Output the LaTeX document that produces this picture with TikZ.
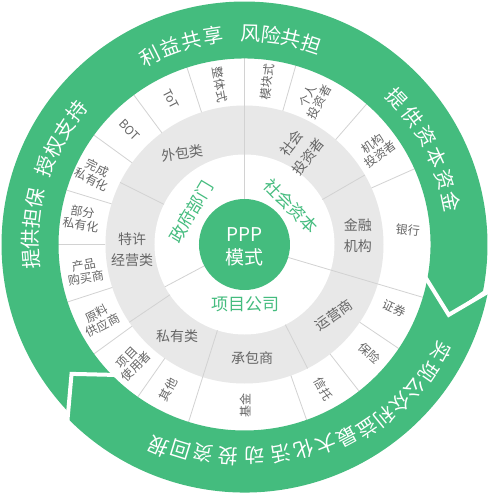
\documentclass[tikz,border=0pt]{standalone}
\usepackage{fontspec}
\setmainfont{Noto Sans CJK SC}
\usepackage{tikz}
\usetikzlibrary{positioning,calc}
\definecolor{pppgreen}{HTML}{44BC7E}
\definecolor{ringgray}{HTML}{E8E8E8}
\definecolor{lblgray}{HTML}{666666}
\definecolor{divline}{HTML}{D2D2D2}
\tikzset{
  arctext/.style={text=white,font=\fontsize{20}{20}\selectfont,inner sep=0pt},
  outerlbl/.style={text=lblgray,font=\fontsize{12}{13}\selectfont,
                   align=center,inner sep=0pt},
  midlbl/.style={text=lblgray,font=\fontsize{14}{21}\selectfont,
                 align=center,inner sep=0pt},
  corelbl/.style={text=pppgreen,font=\fontsize{17}{17}\selectfont,inner sep=0pt},
  hublbl/.style={text=white,font=\fontsize{19}{23}\selectfont,
                 align=center,inner sep=0pt},
  divider/.style={draw=divline,line width=0.8pt},
  gapline/.style={draw=white,line width=4pt,line join=miter}
}

\begin{document}
\begin{tikzpicture}[x=1pt,y=1pt]
    \path[use as bounding box] (-244.5,-248.5) rectangle (245.5,244.5);

    \fill[white] (0,0) circle[radius=186pt];
    \fill[ringgray] (0,0) circle[radius=139pt];
    \fill[white] (0,0) circle[radius=90pt];

    \draw[divider] (90:45pt) -- (90:186pt);
    \draw[divider] (-16.5:45pt) -- (-16.5:186pt);
    \draw[divider] (208:45pt) -- (208:90pt);
    \draw[divider] (214:90pt) -- (214:139pt);
    \draw[divider] (216:139pt) -- (216:186pt);
    \draw[divider] (252.5:90pt) -- (252.5:186pt);
    \foreach \a in {30,-63,153.5}
      \draw[divider] (\a:90pt) -- (\a:139pt);
    \foreach \a in {74,49,24,-34,-52,-70.5,235,198,180,163,144,126.5,108}
      \draw[divider] (\a:139pt) -- (\a:186pt);

    \node[circle,fill=pppgreen,minimum size=91pt,inner sep=0pt] (hub) at (0,0) {};
    \node[hublbl] (hubtext) at (0,-2) {PPP\\模式};

    \fill[pppgreen] (224.5:186pt) -- (216.8:216pt) -- (224.5:243pt)
      arc[start angle=224.5,end angle=-11,radius=243pt]
      -- (-19:216pt) -- (-11:186pt)
      arc[start angle=-11,end angle=224.5,radius=186pt] -- cycle;
    \fill[pppgreen] (-11:186pt) -- (-19:216pt) -- (-11:248pt)
      arc[start angle=-11,end angle=-135.5,radius=248pt]
      -- (-143.2:216pt) -- (-135.5:186pt)
      arc[start angle=-135.5,end angle=-11,radius=186pt] -- cycle;
    \coordinate (rtip) at (-19:216pt);
    \coordinate (ltip) at (-143.2:216pt);
    \draw[gapline] ($(rtip)!1.25!(-11:186pt)$) -- (rtip) -- ($(rtip)!1.3!(-11:248pt)$);
    \draw[gapline] ($(ltip)!1.25!(-135.5:186pt)$) -- (ltip) -- ($(ltip)!1.3!(-135.5:248pt)$);

    \foreach \ch/\ang [count=\i] in {利/116.6,益/110.6,共/104.6,享/98.6,
                                     风/88.4,险/82.8,共/77.2,担/71.6}
      \node[arctext,rotate=\ang-90] (top\i) at (\ang:211pt) {\ch};
    \foreach \ch/\ang [count=\i] in {提/43.6,供/37.2,资/30.8,本/24.4,资/18,金/11.6}
      \node[arctext,rotate=\ang-90] (right\i) at (\ang:211pt) {\ch};
    \foreach \ch/\ang [count=\i] in {提/184,供/178.5,担/173,保/167.5,
                                     授/158.6,权/152.9,支/147.2,持/141.5}
      \node[arctext,rotate=\ang-90] (left\i) at (\ang:214pt) {\ch};
    \foreach \ch/\ang/\rad [count=\i] in {实/-28.7/224,现/-34.6/224,公/-40.1/223,
        众/-45.4/222.7,利/-50.8/221.6,益/-56.2/221,最/-61.9/217.7,大/-67.8/215.5,
        化/-73.8/213.7,活/-80/212,动/-87.3/211.5,投/-94.6/212.2,
        资/-101.1/212.6,回/-107.2/215,报/-113.2/219.3}
      \node[arctext,rotate=\ang-90] (bottom\i) at (\ang:\rad pt) {\ch};

    \node[corelbl,rotate=59] (gov) at (148.7:62.6pt) {政府部门};
    \node[corelbl,rotate=-46] (social) at (39.6:60.4pt) {社会资本};
    \node[corelbl] (spv) at (-89.5:59.5pt) {项目公司};

    \node[midlbl,rotate=8] (outsrc) at (124.3:110.8pt) {外包类};
    \node[midlbl] (concess) at (182.8:112.6pt) {特许\\经营类};
    \node[midlbl] (privat) at (233.6:113.7pt) {私有类};
    \node[midlbl] (contract) at (-86.2:113.7pt) {承包商};
    \node[midlbl,rotate=35] (operator) at (-38.2:114pt) {运营商};
    \node[midlbl] (finance) at (4.3:113.8pt) {金融\\机构};
    \node[midlbl,rotate=52] (investor) at (59.6:109.6pt) {社会\\投资者};

    \node[outerlbl,rotate=-81] (whole) at (98.7:162pt) {整体式};
    \node[outerlbl,rotate=82] (module) at (82:164pt) {模块式};
    \node[outerlbl,rotate=62] (person) at (64.6:161pt) {个人\\投资者};
    \node[outerlbl,rotate=36] (instit) at (36:163pt) {机构\\投资者};
    \node[outerlbl,rotate=-6] (bank) at (5:164pt) {银行};
    \node[outerlbl,rotate=-25] (secur) at (-23:163pt) {证券};
    \node[outerlbl,rotate=-43] (insur) at (-41:166pt) {保险};
    \node[outerlbl,rotate=-61] (trust) at (-61.3:165pt) {信托};
    \node[outerlbl,rotate=90] (fund) at (-89.8:161.5pt) {基金};
    \node[outerlbl,rotate=62] (other) at (242.3:164pt) {其他};
    \node[outerlbl,rotate=46] (user) at (226.2:163pt) {项目\\使用者};
    \node[outerlbl,rotate=27] (supplier) at (207.4:163pt) {原料\\供应商};
    \node[outerlbl,rotate=9.6] (buyer) at (189.6:162pt) {产品\\购买商};
    \node[outerlbl,rotate=-9] (partpriv) at (170.8:165pt) {部分\\私有化};
    \node[outerlbl,rotate=-26] (fullpriv) at (154.8:166pt) {完成\\私有化};
    \node[outerlbl,rotate=-45] (bot) at (135.1:162pt) {BOT};
    \node[outerlbl,rotate=-63] (tot) at (116.8:163pt) {ToT};
  \end{tikzpicture}
\end{document}
